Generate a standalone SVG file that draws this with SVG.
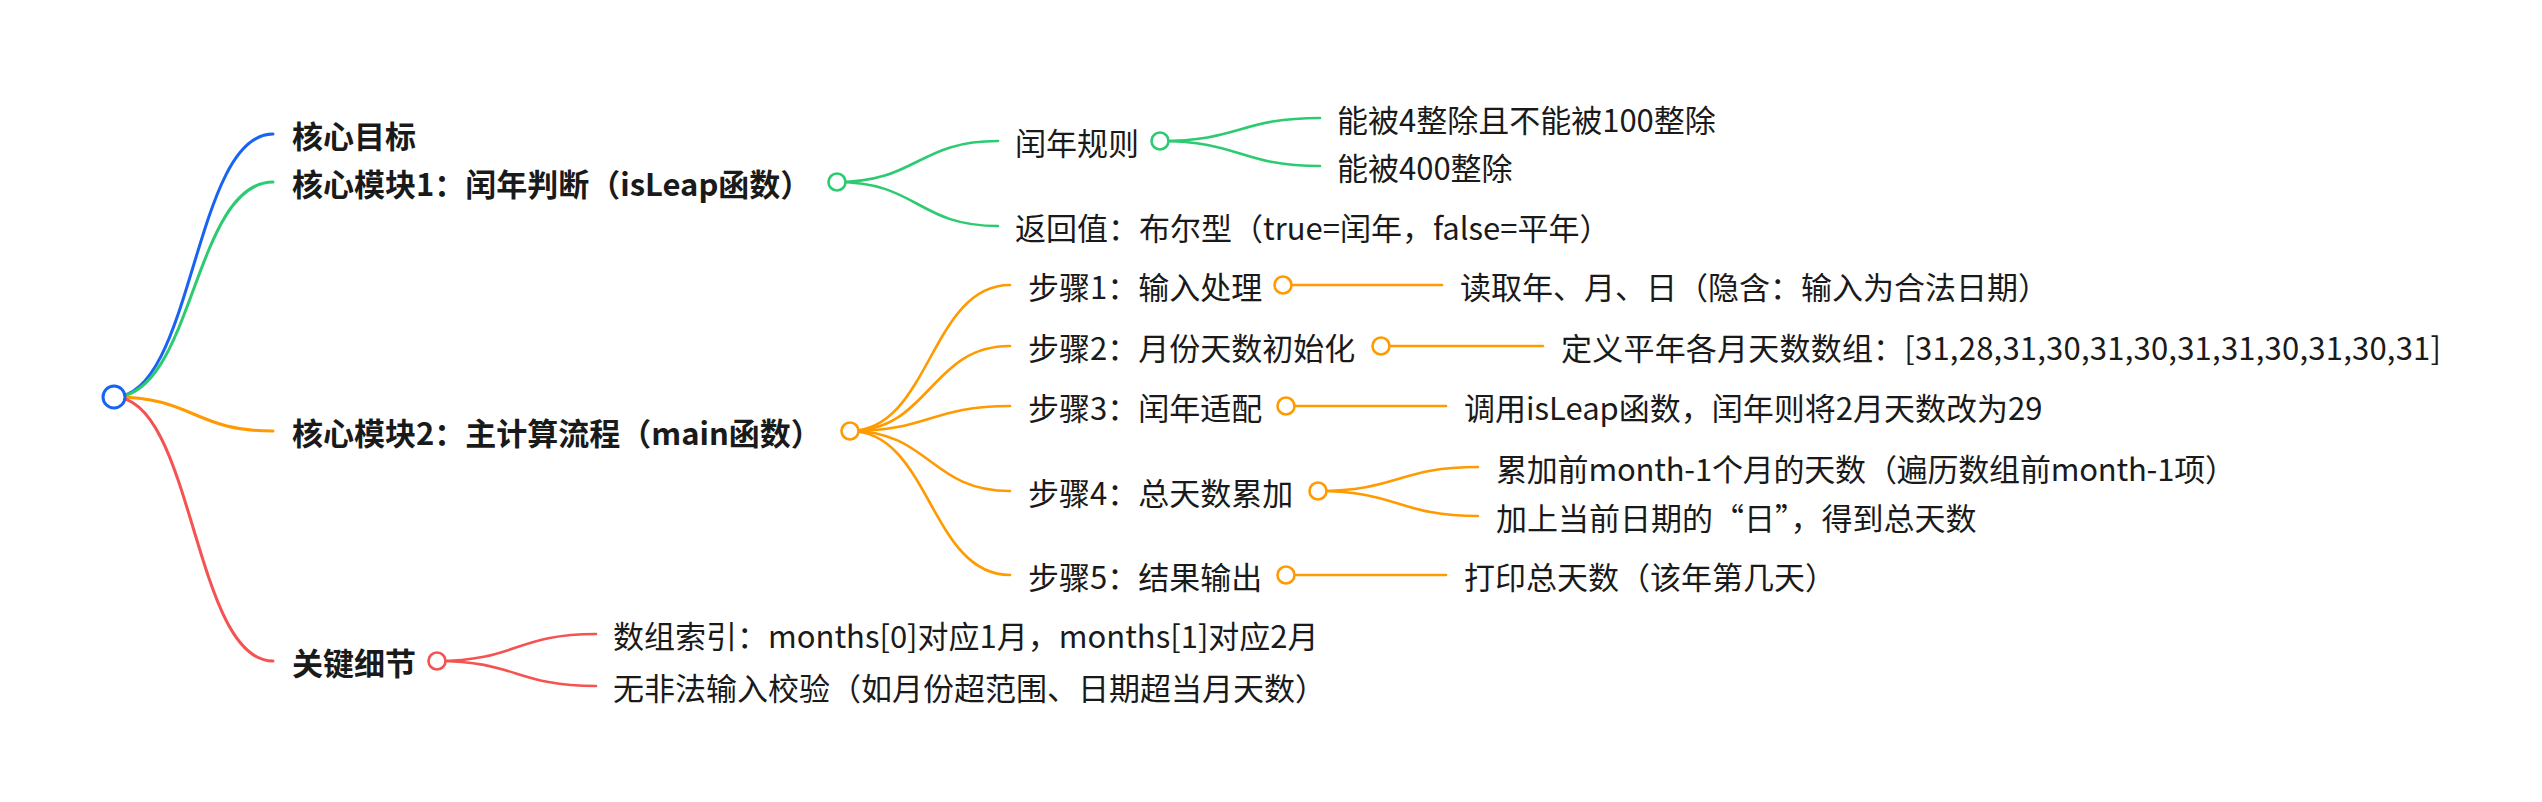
<svg xmlns="http://www.w3.org/2000/svg" width="2542" height="802" viewBox="0 0 2542 802">
<style>
text{font-family:"Noto Sans CJK SC","Noto Sans",sans-serif;font-size:31px;fill:#1a1a1a;dominant-baseline:central}
.b{font-weight:bold}
.lk{fill:none;stroke-linecap:round}
.l1{stroke-width:3}
.l2{stroke-width:2.6}
.blue{stroke:#1764f4}
.green{stroke:#2dcb71}
.orange{stroke:#ff9a00}
.red{stroke:#f55252}
circle{fill:#fff}
.c{stroke-width:2.6}
</style>
<rect width="2542" height="802" fill="#fff"/>
<g id="connectors">
<path class="lk l1 blue" d="M114,397 C193.5,397 193.5,134 273,134"/>
<path class="lk l1 green" d="M114,397 C193.5,397 193.5,182 273,182"/>
<path class="lk l1 orange" d="M114,397 C193.5,397 193.5,431 273,431"/>
<path class="lk l1 red" d="M114,397 C193.5,397 193.5,661 273,661"/>
<path class="lk l2 green" d="M837,182 C917.5,182 917.5,141 998,141"/>
<path class="lk l2 green" d="M837,182 C917.5,182 917.5,226 998,226"/>
<path class="lk l2 green" d="M1160,141 C1240,141 1240,118 1320,118"/>
<path class="lk l2 green" d="M1160,141 C1240,141 1240,166 1320,166"/>
<path class="lk l2 orange" d="M850,431 C930,431 930,285 1010,285"/>
<path class="lk l2 orange" d="M850,431 C930,431 930,346 1010,346"/>
<path class="lk l2 orange" d="M850,431 C930,431 930,406 1010,406"/>
<path class="lk l2 orange" d="M850,431 C930,431 930,491 1010,491"/>
<path class="lk l2 orange" d="M850,431 C930,431 930,575 1010,575"/>
<path class="lk l2 orange" d="M1283,285 L1442,285"/>
<path class="lk l2 orange" d="M1381,346 L1543,346"/>
<path class="lk l2 orange" d="M1286,406 L1446,406"/>
<path class="lk l2 orange" d="M1318,491 C1398,491 1398,467 1478,467"/>
<path class="lk l2 orange" d="M1318,491 C1398,491 1398,516 1478,516"/>
<path class="lk l2 orange" d="M1286,575 L1446,575"/>
<path class="lk l2 red" d="M437,661 C516,661 516,634 596,634"/>
<path class="lk l2 red" d="M437,661 C516,661 516,686 596,686"/>
</g>
<g id="root"><circle cx="114" cy="397" r="11" stroke="#1764f4" stroke-width="3"/></g>
<g id="n-goal"><text class="b" x="292" y="134">核心目标</text></g>
<g id="n-mod1"><text class="b" x="292" y="182">核心模块1：闰年判断（isLeap函数）</text><circle class="c" cx="837" cy="182" r="8.5" stroke="#2dcb71"/></g>
<g id="n-mod2"><text class="b" x="292" y="431">核心模块2：主计算流程（main函数）</text><circle class="c" cx="850" cy="431" r="8.5" stroke="#ff9a00"/></g>
<g id="n-detail"><text class="b" x="292" y="661">关键细节</text><circle class="c" cx="437" cy="661" r="8.5" stroke="#f55252"/></g>
<g id="n-rule"><text x="1015" y="141">闰年规则</text><circle class="c" cx="1160" cy="141" r="8.5" stroke="#2dcb71"/></g>
<g id="n-rule1"><text x="1337" y="118">能被4整除且不能被100整除</text></g>
<g id="n-rule2"><text x="1337" y="166">能被400整除</text></g>
<g id="n-ret"><text x="1015" y="226">返回值：布尔型（true=闰年，false=平年）</text></g>
<g id="n-s1"><text x="1028" y="285">步骤1：输入处理</text><circle class="c" cx="1283" cy="285" r="8.5" stroke="#ff9a00"/></g>
<g id="n-s1a"><text x="1460" y="285">读取年、月、日（隐含：输入为合法日期）</text></g>
<g id="n-s2"><text x="1028" y="346">步骤2：月份天数初始化</text><circle class="c" cx="1381" cy="346" r="8.5" stroke="#ff9a00"/></g>
<g id="n-s2a"><text x="1561" y="346" textLength="880" lengthAdjust="spacing">定义平年各月天数数组：[31,28,31,30,31,30,31,31,30,31,30,31]</text></g>
<g id="n-s3"><text x="1028" y="406">步骤3：闰年适配</text><circle class="c" cx="1286" cy="406" r="8.5" stroke="#ff9a00"/></g>
<g id="n-s3a"><text x="1464" y="406">调用isLeap函数，闰年则将2月天数改为29</text></g>
<g id="n-s4"><text x="1028" y="491">步骤4：总天数累加</text><circle class="c" cx="1318" cy="491" r="8.5" stroke="#ff9a00"/></g>
<g id="n-s4a"><text x="1496" y="467" textLength="740" lengthAdjust="spacing">累加前month-1个月的天数（遍历数组前month-1项）</text></g>
<g id="n-s4b"><text x="1496" y="516">加上当前日期的“日”，得到总天数</text></g>
<g id="n-s5"><text x="1028" y="575">步骤5：结果输出</text><circle class="c" cx="1286" cy="575" r="8.5" stroke="#ff9a00"/></g>
<g id="n-s5a"><text x="1464" y="575">打印总天数（该年第几天）</text></g>
<g id="n-d1"><text x="613" y="634">数组索引：months[0]对应1月，months[1]对应2月</text></g>
<g id="n-d2"><text x="613" y="686">无非法输入校验（如月份超范围、日期超当月天数）</text></g>
</svg>
